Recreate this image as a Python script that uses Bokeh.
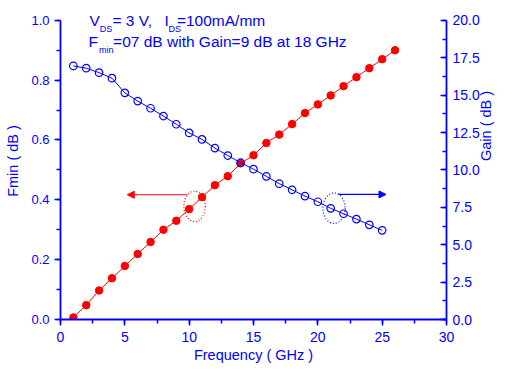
import math
from bokeh.plotting import figure
from bokeh.models import (Range1d, LinearAxis, SingleIntervalTicker, PrintfTickFormatter,
                          Label, Arrow, NormalHead)
from bokeh.embed import file_html
from bokeh.resources import INLINE

# ---- data ----
freq_fmin = list(range(1, 27))
fmin = [0.007, 0.048, 0.097, 0.138, 0.179, 0.219, 0.259, 0.300, 0.330, 0.369,
        0.409, 0.449, 0.479, 0.522, 0.549, 0.590, 0.618, 0.653, 0.690, 0.719,
        0.749, 0.780, 0.810, 0.840, 0.870, 0.900]
freq_gain = list(range(1, 26))
gain = [16.95, 16.80, 16.50, 16.13, 15.15, 14.60, 14.12, 13.60, 13.05, 12.47,
        12.04, 11.46, 10.96, 10.48, 10.05, 9.57, 9.08, 8.67, 8.25, 7.87,
        7.43, 7.07, 6.71, 6.33, 5.96]

BLUE = "#0000ff"
RED = "#ff0000"
FONT = "Liberation Sans"

YTOP = 1.0595
p = figure(width=506, height=366, x_range=Range1d(0, 30), y_range=Range1d(0, YTOP),
           output_backend="svg", toolbar_location=None,
           min_border_left=60, min_border_right=60, min_border_top=2, min_border_bottom=47)
p.outline_line_color = None
p.xgrid.visible = False
p.ygrid.visible = False
p.background_fill_color = "white"
p.border_fill_color = "white"

p.extra_y_ranges = {"gain": Range1d(0, 20 * YTOP)}

def style_axis(ax, label_size="14px"):
    ax.axis_line_color = BLUE
    ax.axis_line_width = 1.8
    ax.major_tick_line_color = BLUE
    ax.minor_tick_line_color = BLUE
    ax.major_tick_line_width = 1.5
    ax.minor_tick_line_width = 1.5
    ax.major_label_text_color = BLUE
    ax.major_label_text_font = FONT
    ax.major_label_text_font_size = label_size
    ax.axis_label_text_color = BLUE
    ax.axis_label_text_font = FONT
    ax.axis_label_text_font_size = "14.5px"
    ax.axis_label_text_font_style = "normal"

# bottom axis
xa = p.xaxis[0]
xa.ticker = SingleIntervalTicker(interval=5, num_minor_ticks=2)
xa.axis_label = "Frequency ( GHz )"
style_axis(xa, "14px")
xa.major_tick_out = 6
xa.major_tick_in = 0
xa.minor_tick_out = 4
xa.minor_tick_in = 0
xa.major_label_standoff = 6
xa.axis_label_standoff = 2

# left axis
ya = p.yaxis[0]
ya.ticker = SingleIntervalTicker(interval=0.2, num_minor_ticks=2)
ya.formatter = PrintfTickFormatter(format="%.1f")
ya.bounds = (0, 1)
ya.axis_label = "Fmin ( dB )"
style_axis(ya, "13px")
ya.major_tick_out = 6
ya.major_tick_in = 0
ya.minor_tick_out = 4
ya.minor_tick_in = 0
ya.major_label_standoff = 5
ya.axis_label_standoff = 7

# right axis
ra = LinearAxis(y_range_name="gain",
                ticker=SingleIntervalTicker(interval=2.5, num_minor_ticks=2),
                formatter=PrintfTickFormatter(format="%.1f"))
style_axis(ra, "14px")
ra.bounds = (0, 20)
ra.major_tick_in = 6
ra.major_tick_out = 0
ra.minor_tick_in = 4
ra.minor_tick_out = 0
ra.major_label_standoff = 6
ra.axis_label = "Gain ( dB )"
ra.axis_label_standoff = 3
try:
    ra.axis_label_orientation = math.pi / 2
except Exception:
    pass
p.add_layout(ra, "right")

# series
p.line(freq_fmin, fmin, line_color=RED, line_width=1)
p.scatter(freq_fmin, fmin, size=7.5, fill_color=RED, line_color=RED)
p.line(freq_gain, gain, y_range_name="gain", line_color=BLUE, line_width=1)
p.scatter(freq_gain, gain, y_range_name="gain", size=7.5, fill_alpha=0,
          line_color=BLUE, line_width=1.2)

# annotation ellipses and arrows
p.ellipse(x=[10.42], y=[0.378], width=[1.66], height=[0.102], fill_alpha=0,
          line_color=RED, line_dash="1 2", line_width=1.2)
p.ellipse(x=[21.26], y=[0.372], width=[1.73], height=[0.102], fill_alpha=0,
          line_color=BLUE, line_dash="1 2", line_width=1.2)
p.add_layout(Arrow(x_start=9.86, y_start=0.417, x_end=5.19, y_end=0.417,
                   line_color=RED, line_width=1.2,
                   end=NormalHead(size=7, fill_color=RED, line_color=RED)))
p.add_layout(Arrow(x_start=21.6, y_start=0.418, x_end=25.3, y_end=0.418,
                   line_color=BLUE, line_width=1.2,
                   end=NormalHead(size=7, fill_color=BLUE, line_color=BLUE)))

# header text with subscripts
def txt(x, y, s, size):
    p.add_layout(Label(x=x, y=y, text=s, text_color=BLUE, text_font=FONT,
                       text_font_size=size, text_baseline="alphabetic",
                       text_align="left"))

txt(2.26, 0.998, "V", "15.5px")
txt(3.06, 0.970, "DS", "9px")
txt(4.04, 0.998, "= 3 V,", "15.5px")
txt(8.09, 0.998, "I", "15.5px")
txt(8.39, 0.970, "DS", "9px")
txt(9.05, 0.998, "=100mA/mm", "15.5px")
txt(2.18, 0.9286, "F", "15.5px")
txt(2.99, 0.9007, "min", "9px")
txt(4.09, 0.9286, "=07 dB with Gain=9 dB at 18 GHz", "15.5px")

open("out.html", "w").write(file_html(p, INLINE))
